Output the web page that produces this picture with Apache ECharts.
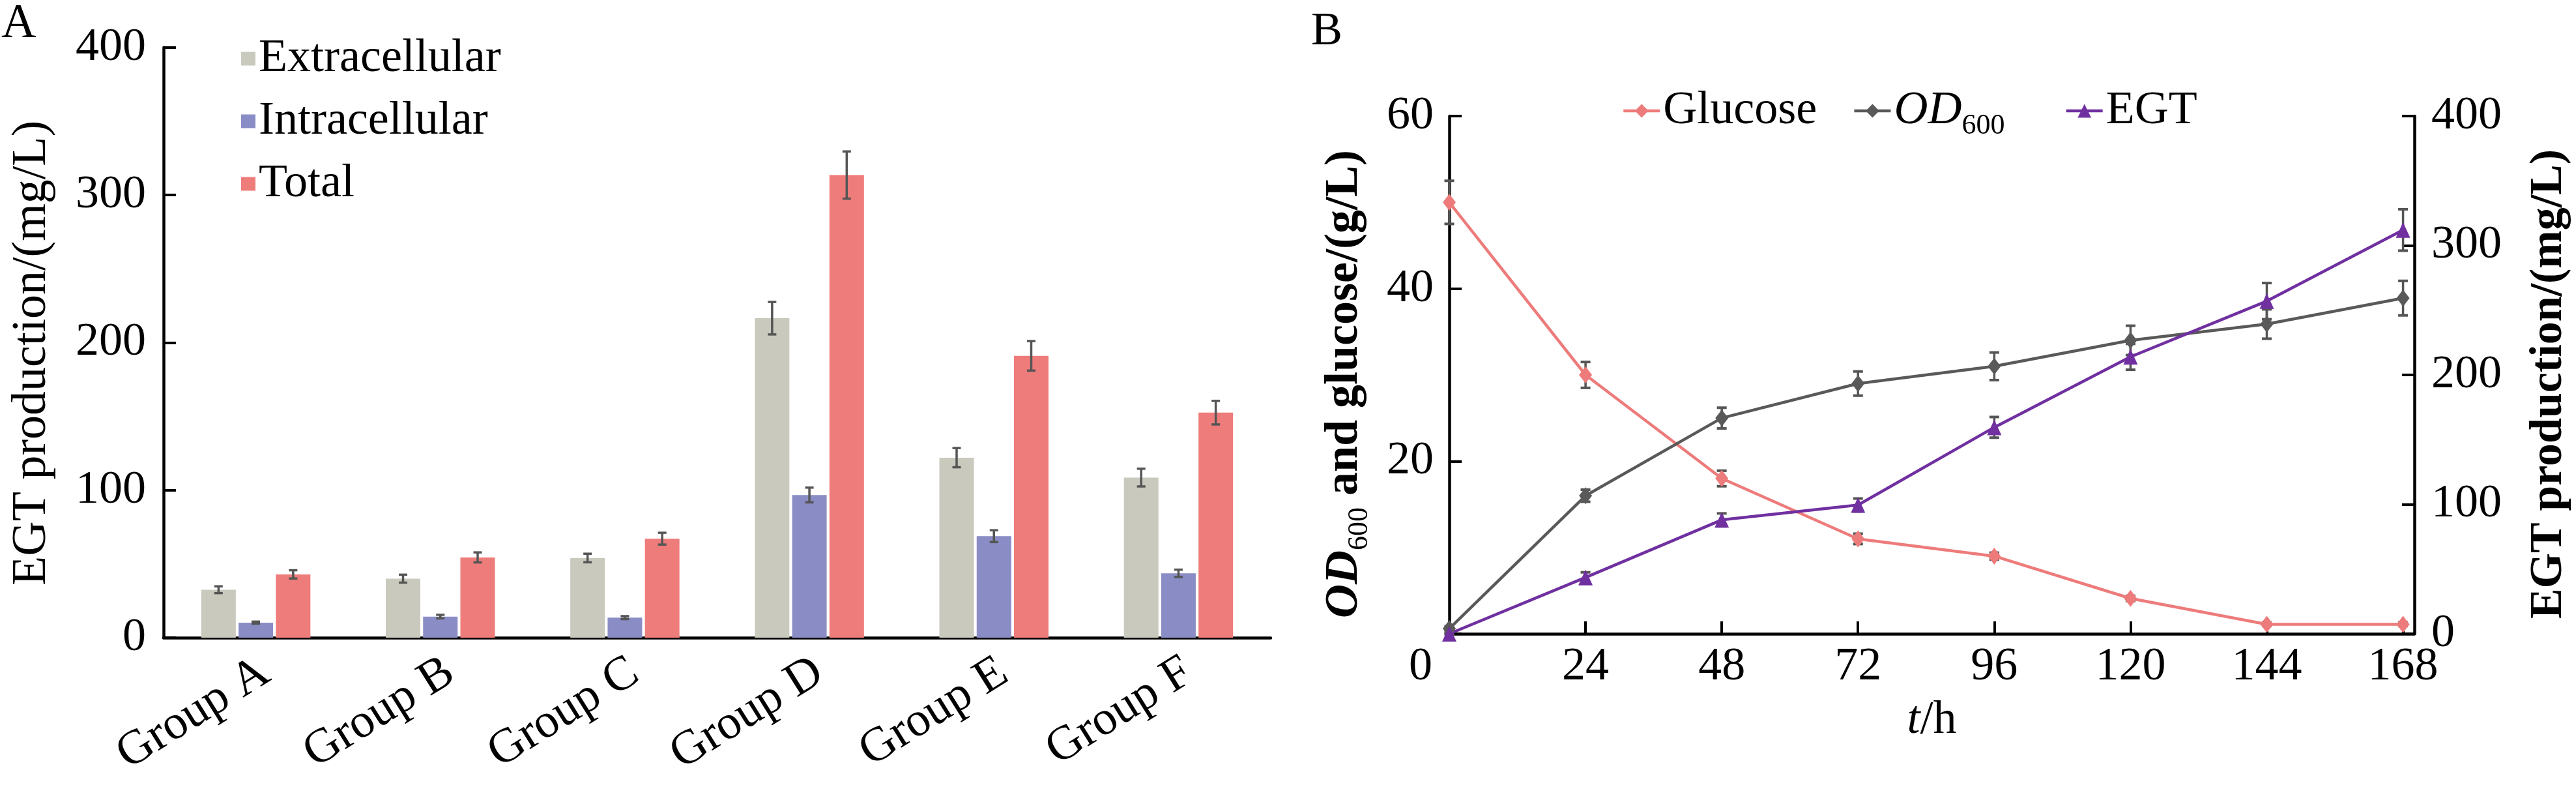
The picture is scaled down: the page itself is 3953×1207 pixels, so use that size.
<!DOCTYPE html>
<html>
<head>
<meta charset="utf-8">
<title>EGT production</title>
<script src="https://cdn.jsdelivr.net/npm/echarts@6/dist/echarts.min.js"></script>
<style>
  html, body { margin: 0; padding: 0; background: #fff; }
  #main { width: 3953px; height: 1207px; }
</style>
</head>
<body>
<div id="main"></div>
<script>
// panel A: EGT of the six groups
var groups = ['Group A', 'Group B', 'Group C', 'Group D', 'Group E', 'Group F'];
var extracellular = [32.5, 40, 54, 216.5, 122, 108.5];
var extracellularErr = [2.3, 2.7, 2.9, 11, 6.5, 6];
var intracellular = [10.2, 14.3, 13.6, 96.7, 68.8, 43.6];
var intracellularErr = [0.7, 1.2, 1, 5, 4, 2.5];
var total = [42.9, 54.4, 67.1, 313.5, 191, 152.5];
var totalErr = [2.8, 3.4, 4, 16, 10, 8];
var ticksA = [0, 100, 200, 300, 400];

// panel B: fermentation time course
var hours = [0, 24, 48, 72, 96, 120, 144, 168];
var glucose = [50, 30, 18, 11, 9, 4.1, 1.1, 1.1];
var glucoseErr = [2.5, 1.5, 0.9, 0.6, 0.4, 0.3, 0.2, 0.2];
var od600 = [0.6, 16, 25, 29, 31, 34, 35.9, 38.9];
var od600Err = [0.3, 0.7, 1.2, 1.4, 1.6, 1.7, 1.7, 2];
var egt = [0, 43.5, 88, 99.5, 159.5, 214, 257, 312];
var egtErr = [0.5, 4, 5, 5, 8, 10, 14, 16];
var ticksLeftB = [0, 20, 40, 60];
var ticksRightB = [0, 100, 200, 300, 400];

var FONT = '"Liberation Serif", "Times New Roman", serif';
var ERR_COLOR = '#555555';
var BAR_W = 53, BAR_GAP = '8%';

function errStyle(w) {
  return { stroke: ERR_COLOR, lineWidth: w };
}

// error bars over the grouped bars of panel A
function barErrors(values, errs, index) {
  return {
    type: 'custom',
    xAxisIndex: 0,
    yAxisIndex: 0,
    z: 5,
    silent: true,
    data: values.map(function (v, i) { return [i, v - errs[i], v + errs[i]]; }),
    renderItem: function (params, api) {
      var layout = api.barLayout({ barWidth: BAR_W, barGap: BAR_GAP, count: 3 });
      var lo = api.coord([api.value(0), api.value(1)]);
      var hi = api.coord([api.value(0), api.value(2)]);
      var x = lo[0] + layout[index].offsetCenter;
      var c = 6.5;
      return {
        type: 'group',
        children: [
          { type: 'line', shape: { x1: x, y1: lo[1], x2: x, y2: hi[1] }, style: errStyle(3.5) },
          { type: 'line', shape: { x1: x - c, y1: lo[1], x2: x + c, y2: lo[1] }, style: errStyle(3.5) },
          { type: 'line', shape: { x1: x - c, y1: hi[1], x2: x + c, y2: hi[1] }, style: errStyle(3.5) }
        ]
      };
    }
  };
}

// error bars for the points of panel B
function lineErrors(values, errs, yIndex) {
  return {
    type: 'custom',
    xAxisIndex: 1,
    yAxisIndex: yIndex,
    z: 3,
    silent: true,
    clip: false,
    data: hours.map(function (h, i) { return [h, values[i] - errs[i], values[i] + errs[i]]; }),
    renderItem: function (params, api) {
      var lo = api.coord([api.value(0), api.value(1)]);
      var hi = api.coord([api.value(0), api.value(2)]);
      var x = lo[0], c = 7.5;
      return {
        type: 'group',
        children: [
          { type: 'line', shape: { x1: x, y1: lo[1], x2: x, y2: hi[1] }, style: errStyle(3.5) },
          { type: 'line', shape: { x1: x - c, y1: lo[1], x2: x + c, y2: lo[1] }, style: errStyle(4) },
          { type: 'line', shape: { x1: x - c, y1: hi[1], x2: x + c, y2: hi[1] }, style: errStyle(4) }
        ]
      };
    }
  };
}

function pairs(values) {
  return hours.map(function (h, i) { return [h, values[i]]; });
}

var axisLine = { show: true, lineStyle: { color: '#000', width: 4.5 } };
var tickIn = { show: true, inside: true, length: 19, lineStyle: { color: '#000', width: 4 } };

var chart = echarts.init(document.getElementById('main'), null, { renderer: 'canvas' });

var option = {
  animation: false,
  backgroundColor: '#fff',
  textStyle: { fontFamily: FONT },
  graphic: [
    { type: 'text', x: 2, y: 38, style: { text: 'A', fill: '#000', font: '74px "Liberation Serif"', verticalAlign: 'middle' } },
    { type: 'text', x: 2012, y: 49, style: { text: 'B', fill: '#000', font: '72px "Liberation Serif"', verticalAlign: 'middle' } }
  ],
  grid: [
    { left: 251, right: 2003, top: 72.7, bottom: 229, outerBoundsMode: 'none' },
    { left: 2224, right: 248, top: 178, bottom: 235, outerBoundsMode: 'none' }
  ],
  legend: [
    {
      data: ['Extracellular', 'Intracellular', 'Total'],
      orient: 'vertical',
      left: 365,
      top: 49,
      icon: 'rect',
      itemWidth: 22,
      itemHeight: 21,
      itemGap: 24,
      itemTextGap: 13,
      selectedMode: false,
      textStyle: { color: '#000', fontFamily: FONT, fontSize: 72, lineHeight: 72 }
    },
    {
      data: ['Glucose', 'OD600', 'EGT'],
      orient: 'horizontal',
      left: 2484,
      top: 129,
      itemWidth: 56,
      itemHeight: 26,
      itemGap: 55,
      itemTextGap: 8,
      selectedMode: false,
      lineStyle: { width: 4.5 },
      formatter: function (name) {
        return name === 'OD600' ? '{i|OD}{s|600}' : '{n|' + name + '}';
      },
      textStyle: {
        color: '#000',
        fontFamily: FONT,
        fontSize: 72,
        rich: {
          n: { fontFamily: FONT, fontSize: 72, lineHeight: 90 },
          i: { fontFamily: FONT, fontSize: 72, fontStyle: 'italic', lineHeight: 90 },
          s: { fontFamily: FONT, fontSize: 44, lineHeight: 36, verticalAlign: 'bottom', padding: [0, 37, 0, 0] }
        }
      }
    }
  ],
  xAxis: [
    {
      type: 'category',
      gridIndex: 0,
      data: groups,
      axisLine: axisLine,
      axisTick: { show: false },
      axisLabel: {
        color: '#000', fontFamily: FONT, fontSize: 74, rotate: 32, margin: 57, interval: 0,
        padding: [0, -18, 0, 0]
      },
      splitLine: { show: false }
    },
    {
      type: 'value',
      gridIndex: 1,
      min: 0,
      max: 170,
      axisLine: axisLine,
      axisTick: { show: true, inside: true, length: 19, lineStyle: { color: '#000', width: 4 }, customValues: hours },
      axisLabel: {
        color: '#000', fontFamily: FONT, fontSize: 72, margin: 15,
        customValues: hours,
        formatter: function (v) { return v === 0 ? '{z|0}' : String(v); },
        rich: { z: { fontFamily: FONT, fontSize: 72, padding: [0, 88, 0, 0] } }
      },
      splitLine: { show: false },
      name: '{i|t}{n|/h}',
      nameLocation: 'middle',
      nameGap: 97,
      nameTextStyle: {
        color: '#000',
        rich: {
          i: { fontFamily: FONT, fontSize: 72, fontStyle: 'italic' },
          n: { fontFamily: FONT, fontSize: 72 }
        }
      }
    }
  ],
  yAxis: [
    {
      type: 'value',
      gridIndex: 0,
      min: ticksA[0],
      max: ticksA[ticksA.length - 1],
      interval: ticksA[1] - ticksA[0],
      axisLine: axisLine,
      axisTick: tickIn,
      axisLabel: { color: '#000', fontFamily: FONT, fontSize: 72, margin: 27 },
      splitLine: { show: false },
      name: 'EGT production/(mg/L)',
      nameLocation: 'middle',
      nameRotate: 90,
      nameGap: 164,
      nameTextStyle: { color: '#000', fontFamily: FONT, fontSize: 74, lineHeight: 74, padding: [0, 32, 0, 0] }
    },
    {
      type: 'value',
      gridIndex: 1,
      position: 'left',
      min: ticksLeftB[0],
      max: ticksLeftB[ticksLeftB.length - 1],
      interval: ticksLeftB[1] - ticksLeftB[0],
      axisLine: axisLine,
      axisTick: tickIn,
      axisLabel: {
        color: '#000', fontFamily: FONT, fontSize: 72, margin: 24,
        formatter: function (v) { return v === 0 ? '' : String(v); }
      },
      splitLine: { show: false },
      name: '{bi|OD}{s|600}{b| and glucose/(g/L)}',
      nameLocation: 'middle',
      nameRotate: 90,
      nameGap: 116,
      nameTextStyle: {
        color: '#000',
        padding: [0, 28, 0, 0],
        rich: {
          bi: { fontFamily: FONT, fontSize: 72, fontWeight: 'bold', fontStyle: 'italic', lineHeight: 90 },
          s: { fontFamily: FONT, fontSize: 44, lineHeight: 36, verticalAlign: 'bottom' },
          b: { fontFamily: FONT, fontSize: 72, fontWeight: 'bold', lineHeight: 90 }
        }
      }
    },
    {
      type: 'value',
      gridIndex: 1,
      position: 'right',
      min: ticksRightB[0],
      max: ticksRightB[ticksRightB.length - 1],
      interval: ticksRightB[1] - ticksRightB[0],
      axisLine: axisLine,
      axisTick: tickIn,
      axisLabel: { color: '#000', fontFamily: FONT, fontSize: 72, margin: 26 },
      splitLine: { show: false },
      name: 'EGT production/(mg/L)',
      nameLocation: 'middle',
      nameRotate: 90,
      nameGap: 172,
      nameTextStyle: { color: '#000', fontFamily: FONT, fontSize: 70, fontWeight: 'bold', lineHeight: 70, padding: [0, 28, 0, 0] }
    }
  ],
  series: [
    { name: 'Extracellular', type: 'bar', xAxisIndex: 0, yAxisIndex: 0, data: extracellular, barWidth: BAR_W, barGap: BAR_GAP, itemStyle: { color: '#c9c9be' } },
    { name: 'Intracellular', type: 'bar', xAxisIndex: 0, yAxisIndex: 0, data: intracellular, barWidth: BAR_W, barGap: BAR_GAP, itemStyle: { color: '#8a8dc5' } },
    { name: 'Total', type: 'bar', xAxisIndex: 0, yAxisIndex: 0, data: total, barWidth: BAR_W, barGap: BAR_GAP, itemStyle: { color: '#ee7c7b' } },
    barErrors(extracellular, extracellularErr, 0),
    barErrors(intracellular, intracellularErr, 1),
    barErrors(total, totalErr, 2),

    lineErrors(glucose, glucoseErr, 1),
    lineErrors(od600, od600Err, 1),
    lineErrors(egt, egtErr, 2),
    {
      name: 'Glucose', type: 'line', xAxisIndex: 1, yAxisIndex: 1, z: 4, clip: false,
      data: pairs(glucose), symbol: 'diamond', symbolSize: [20, 26], showAllSymbol: true,
      itemStyle: { color: '#ee7b7b' }, lineStyle: { color: '#ee7b7b', width: 4.5 }
    },
    {
      name: 'OD600', type: 'line', xAxisIndex: 1, yAxisIndex: 1, z: 4, clip: false,
      data: pairs(od600), symbol: 'diamond', symbolSize: [20, 26], showAllSymbol: true,
      itemStyle: { color: '#595959' }, lineStyle: { color: '#595959', width: 4.5 }
    },
    {
      name: 'EGT', type: 'line', xAxisIndex: 1, yAxisIndex: 2, z: 4, clip: false,
      data: pairs(egt), symbol: 'triangle', symbolSize: [22, 24], showAllSymbol: true,
      itemStyle: { color: '#7030a0' }, lineStyle: { color: '#7030a0', width: 4.5 }
    }
  ]
};

chart.setOption(option);
</script>
</body>
</html>
